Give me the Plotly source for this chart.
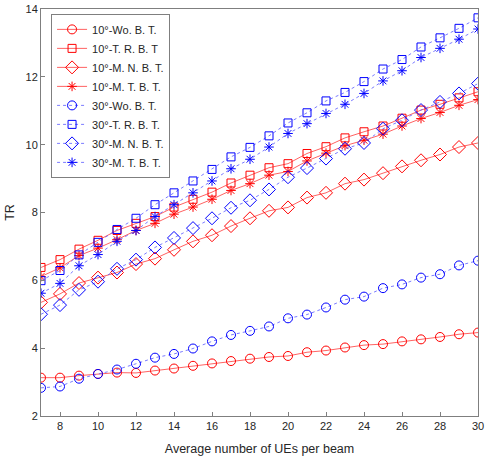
import plotly.graph_objects as go

x = list(range(7, 31))

r_wo = [3.13, 3.13, 3.19, 3.24, 3.28, 3.27, 3.34, 3.40, 3.48, 3.55, 3.62, 3.69, 3.74, 3.77,
        3.88, 3.93, 4.02, 4.09, 4.12, 4.20, 4.26, 4.33, 4.41, 4.46]
r_tr = [6.38, 6.61, 6.92, 7.18, 7.47, 7.68, 7.88, 8.16, 8.39, 8.60, 8.87, 9.10, 9.32, 9.44,
        9.74, 9.94, 10.20, 10.38, 10.55, 10.78, 11.02, 11.19, 11.38, 11.56]
r_mn = [5.35, 5.60, 5.92, 6.08, 6.23, 6.48, 6.64, 6.90, 7.15, 7.33, 7.60, 7.83, 8.05, 8.15,
        8.44, 8.58, 8.85, 8.97, 9.16, 9.36, 9.54, 9.71, 9.93, 10.05]
r_mt = [6.11, 6.37, 6.73, 6.95, 7.20, 7.47, 7.68, 7.95, 8.16, 8.39, 8.65, 8.85, 9.10, 9.21,
        9.52, 9.75, 9.97, 10.13, 10.31, 10.55, 10.77, 10.95, 11.16, 11.33]
b_wo = [2.83, 2.87, 3.10, 3.24, 3.37, 3.54, 3.72, 3.83, 3.99, 4.20, 4.39, 4.51, 4.64, 4.88,
        4.99, 5.20, 5.43, 5.52, 5.77, 5.88, 6.08, 6.18, 6.44, 6.58]
b_tr = [5.99, 6.29, 6.75, 7.12, 7.50, 7.83, 8.23, 8.58, 8.93, 9.27, 9.64, 9.92, 10.26, 10.64,
        10.94, 11.29, 11.54, 11.86, 12.23, 12.51, 12.88, 13.15, 13.43, 13.74]
b_mn = [5.00, 5.27, 5.72, 5.96, 6.34, 6.61, 6.97, 7.25, 7.54, 7.83, 8.14, 8.36, 8.68, 9.04,
        9.31, 9.59, 9.88, 10.05, 10.47, 10.72, 11.02, 11.26, 11.51, 11.80]
b_mt = [5.62, 5.91, 6.43, 6.76, 7.15, 7.47, 7.88, 8.23, 8.58, 8.93, 9.29, 9.57, 9.93, 10.33,
        10.62, 10.92, 11.19, 11.51, 11.88, 12.18, 12.57, 12.84, 13.11, 13.41]

names = ["10°-Wo. B. T.", "10°-T. R. B. T", "10°-M. N. B. T.", "10°-M. T. B. T.",
         "30°-Wo. B. T.", "30°-T. R. B. T.", "30°-M. N. B. T.", "30°-M. T. B. T."]
series = [r_wo, r_tr, r_mn, r_mt, b_wo, b_tr, b_mn, b_mt]
symbols = ["circle-open", "square-open", "diamond-open", "asterisk-open"] * 2
sizes = [9, 8, 10, 8] * 2

fig = go.Figure()
for i, (nm, ys) in enumerate(zip(names, series)):
    red = i < 4
    fig.add_trace(go.Scatter(
        x=x, y=ys, name=nm, mode="lines+markers",
        line=dict(color="rgba(255,70,70,0.85)" if red else "rgba(90,90,255,0.8)",
                  width=1, dash="solid" if red else "dot"),
        marker=dict(symbol=symbols[i], size=sizes[i],
                    color="#FF0000" if red else "#0000FF",
                    line=dict(width=1, color="#FF0000" if red else "#0000FF")),
    ))

axis_common = dict(showline=True, linecolor="#7f7f7f", linewidth=1, mirror=True,
                   ticks="inside", ticklen=4, tickcolor="#7f7f7f", showgrid=False,
                   zeroline=False, automargin=False,
                   tickfont=dict(family="Liberation Sans, Arial", size=11, color="#262626"))

fig.update_layout(
    width=490, height=460,
    margin=dict(l=41, r=12, t=9, b=44),
    paper_bgcolor="white", plot_bgcolor="white",
    font=dict(family="Liberation Sans, Arial", size=11, color="#262626"),
    xaxis=dict(range=[7, 30], tickvals=list(range(8, 31, 2)),
               title=dict(text="Average number of UEs per beam", font=dict(size=12.5), standoff=13),
               **axis_common),
    yaxis=dict(range=[2, 14], tickvals=list(range(2, 15, 2)),
               title=dict(text="TR", font=dict(size=12.5), standoff=8),
               **axis_common),
    legend=dict(x=0.023, y=0.988, xanchor="left", yanchor="top",
                bgcolor="white", bordercolor="#7f7f7f", borderwidth=1,
                font=dict(size=11, color="#262626"), tracegroupgap=0,
                itemwidth=30),
    showlegend=True,
)

fig.write_html("out.html", config={"displayModeBar": False},
               post_script="document.body.style.margin='0px';")
